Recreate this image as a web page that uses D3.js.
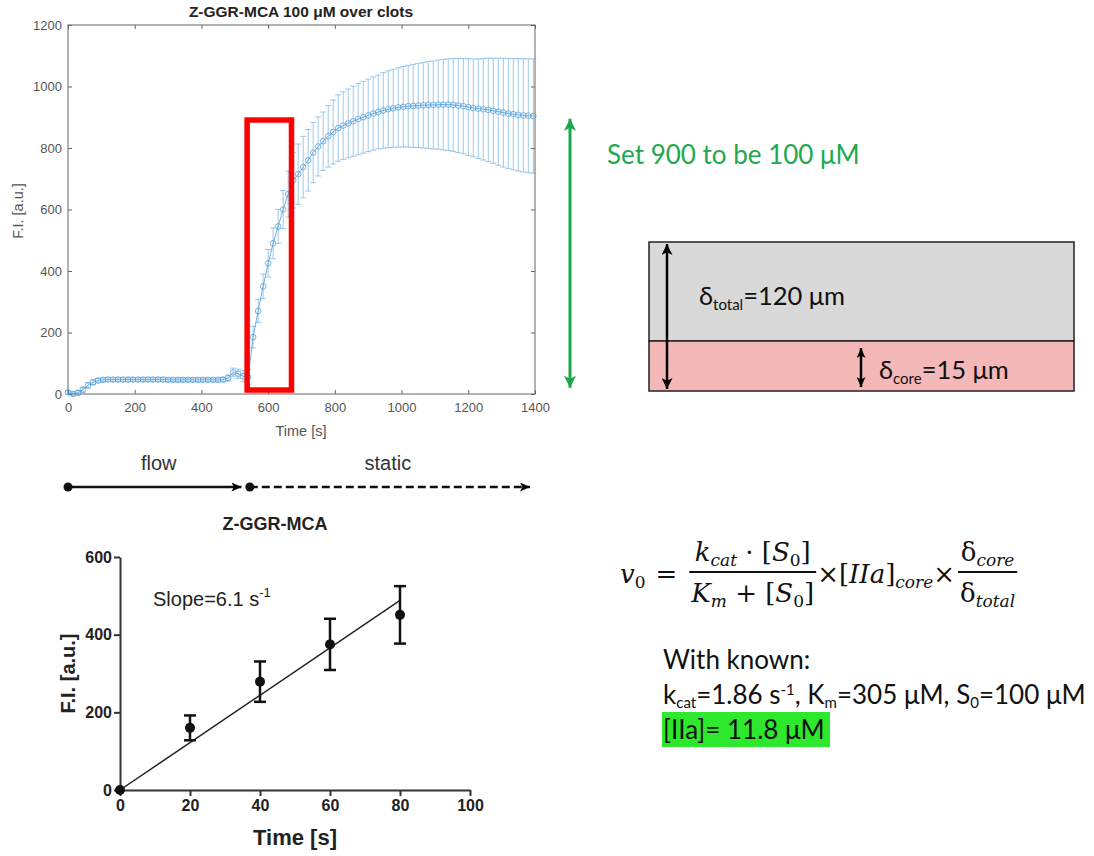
<!DOCTYPE html>
<html>
<head>
<meta charset="utf-8">
<script src="https://cdn.jsdelivr.net/npm/d3@7"></script>
<style>
  body { margin: 0; background: #fff; }
  svg { display: block; }
</style>
</head>
<body>
<svg id="fig" width="1094" height="856"></svg>
<script>
// ---------- Data ----------
// Fluorescence over clots, Z-GGR-MCA 100 µM (mean ± SD), sampled every 15 s
const topTime = [0,15,30,45,60,75,90,105,120,135,150,165,180,195,210,225,240,255,270,285,
  300,315,330,345,360,375,390,405,420,435,450,465,480,495,510,525,540,555,570,585,
  600,615,630,645,660,675,690,705,720,735,750,765,780,795,810,825,840,855,870,885,
  900,915,930,945,960,975,990,1005,1020,1035,1050,1065,1080,1095,1110,1125,1140,1155,1170,1185,
  1200,1215,1230,1245,1260,1275,1290,1305,1320,1335,1350,1365,1380,1395];
const topMean = [5,0,4,14,28,38,44,46,47,47,47,47,47,47,47,47,47,47,47,47,
  46,46,46,46,46,46,46,46,46,46,46,47,52,70,66,58,55,185,270,350,
  425,490,545,600,650,695,715,738,760,785,805,822,838,852,865,873,880,887,894,900,
  906,912,917,922,926,929,932,934,936,937,938,939,940,940,941,941,941,940,938,936,
  933,930,928,926,924,921,918,915,912,910,908,906,905,904];
const topSd = [5,6,7,8,9,8,7,6,6,6,6,6,6,6,6,6,6,6,6,6,
  6,6,6,6,6,6,6,6,6,6,6,7,10,14,15,18,25,35,38,40,
  45,50,55,62,75,90,98,100,100,98,96,95,100,104,108,110,112,114,116,117,
  118,119,120,123,125,127,129,131,133,135,137,139,141,143,145,147,149,151,153,155,
  157,159,162,165,168,171,174,177,179,181,183,184,185,186];
const topXTicks = [0,200,400,600,800,1000,1200,1400];
const topYTicks = [0,200,400,600,800,1000,1200];

// Window analysed for the initial rate (time [s], F.I. [a.u.])
const windowTime = [537, 670];
const windowFI = [13, 891];
// Span of the calibration arrow (F.I. [a.u.])
const calibrationFI = [20, 895];

// Flow / static phases (time [s])
const phaseNames = ["flow", "static"];
const phaseStart = [0, 545];
const phaseEnd = [520, 1385];

// Initial-rate fit
const rateTime = [0, 20, 40, 60, 80];
const rateFI = [0, 160, 279, 375, 451];
const rateErr = [0, 32, 52, 66, 74];
const rateSlope = 6.1;
const rateXTicks = [0, 20, 40, 60, 80, 100];
const rateYTicks = [0, 200, 400, 600];

const svg = d3.select("#fig");
const blue = "#4f9cd8";

// ---------- Top chart: F.I. over time ----------
const xT = d3.scaleLinear().domain([0, 1400]).range([68, 535]);
const yT = d3.scaleLinear().domain([0, 1200]).range([394, 25]);
const topG = svg.append("g").attr("font-family", "Liberation Sans, Arial, sans-serif");

const axisColor = "#666";
function styleAxis(g) {
  g.selectAll(".domain").remove();
  g.selectAll(".tick line").attr("stroke", axisColor);
  g.selectAll(".tick text").attr("fill", "#555").attr("font-size", 13);
}
const fmt = d3.format("d");
topG.append("g").attr("transform", `translate(0,${yT(0)})`)
  .call(d3.axisBottom(xT).tickValues(topXTicks).tickFormat(fmt).tickSizeInner(-4).tickSizeOuter(0).tickPadding(9))
  .call(styleAxis);
topG.append("g").attr("transform", `translate(${xT(0)},0)`)
  .call(d3.axisLeft(yT).tickValues(topYTicks).tickFormat(fmt).tickSizeInner(-4).tickSizeOuter(0).tickPadding(6))
  .call(styleAxis);
topG.append("g").attr("transform", `translate(0,${yT(1200)})`)
  .call(d3.axisTop(xT).tickValues(topXTicks).tickSizeInner(-4).tickSizeOuter(0).tickFormat(""))
  .call(styleAxis);
topG.append("g").attr("transform", `translate(${xT(1400)},0)`)
  .call(d3.axisRight(yT).tickValues(topYTicks).tickSizeInner(-4).tickSizeOuter(0).tickFormat(""))
  .call(styleAxis);
topG.append("rect")
  .attr("x", xT(0)).attr("y", yT(1200))
  .attr("width", xT(1400) - xT(0)).attr("height", yT(0) - yT(1200))
  .attr("fill", "none").attr("stroke", axisColor).attr("stroke-width", 1);

topG.append("text").attr("x", 301).attr("y", 17).attr("text-anchor", "middle")
  .attr("font-size", 15.5).attr("font-weight", "bold").attr("fill", "#222")
  .text("Z-GGR-MCA 100 μM over clots");
topG.append("text").attr("x", 301).attr("y", 436).attr("text-anchor", "middle")
  .attr("font-size", 14.5).attr("fill", "#555").text("Time [s]");
topG.append("text").attr("transform", "translate(23,211) rotate(-90)")
  .attr("text-anchor", "middle").attr("font-size", 14.5).attr("fill", "#555").text("F.I. [a.u.]");

const topData = topTime.map((t, i) => ({ t, m: topMean[i], s: topSd[i] }));
const eb = topG.append("g").attr("stroke", blue).attr("stroke-opacity", 0.55).attr("fill", "none").attr("stroke-width", 1);
eb.selectAll("line.v").data(topData).join("line").attr("class", "v")
  .attr("x1", d => xT(d.t)).attr("x2", d => xT(d.t))
  .attr("y1", d => yT(d.m - d.s)).attr("y2", d => yT(d.m + d.s));
eb.selectAll("line.cu").data(topData).join("line").attr("class", "cu")
  .attr("x1", d => xT(d.t) - 3).attr("x2", d => xT(d.t) + 3)
  .attr("y1", d => yT(d.m + d.s)).attr("y2", d => yT(d.m + d.s));
eb.selectAll("line.cl").data(topData).join("line").attr("class", "cl")
  .attr("x1", d => xT(d.t) - 3).attr("x2", d => xT(d.t) + 3)
  .attr("y1", d => yT(d.m - d.s)).attr("y2", d => yT(d.m - d.s));
topG.append("path").datum(topData)
  .attr("fill", "none").attr("stroke", blue).attr("stroke-opacity", 0.8).attr("stroke-width", 1)
  .attr("d", d3.line().x(d => xT(d.t)).y(d => yT(d.m)));
topG.selectAll("circle.m").data(topData).join("circle").attr("class", "m")
  .attr("cx", d => xT(d.t)).attr("cy", d => yT(d.m)).attr("r", 2.8)
  .attr("fill", "none").attr("stroke", blue).attr("stroke-opacity", 0.75).attr("stroke-width", 1);

// highlighted initial-rate window
svg.append("rect")
  .attr("x", xT(windowTime[0])).attr("y", yT(windowFI[1]))
  .attr("width", xT(windowTime[1]) - xT(windowTime[0]))
  .attr("height", yT(windowFI[0]) - yT(windowFI[1]))
  .attr("fill", "none").attr("stroke", "#ff0000").attr("stroke-width", 5.5);

// ---------- Arrow markers ----------
const defs = svg.append("defs");
function arrowMarker(id, color, w, h) {
  defs.append("marker").attr("id", id)
    .attr("viewBox", `0 0 ${w} ${h}`).attr("refX", w).attr("refY", h / 2)
    .attr("markerWidth", w).attr("markerHeight", h)
    .attr("markerUnits", "userSpaceOnUse").attr("orient", "auto-start-reverse")
    .append("path").attr("d", `M0,0 L${w},${h / 2} L0,${h} L${w * 0.25},${h / 2} Z`).attr("fill", color);
}
arrowMarker("ag", "#1aa64a", 12, 12);
arrowMarker("ak", "#000", 11, 11);
arrowMarker("akt", "#000", 10, 9);

// calibration arrow
svg.append("line")
  .attr("x1", 570).attr("x2", 570)
  .attr("y1", yT(calibrationFI[1])).attr("y2", yT(calibrationFI[0]))
  .attr("stroke", "#1aa64a").attr("stroke-width", 3)
  .attr("marker-start", "url(#ag)").attr("marker-end", "url(#ag)");
svg.append("text").attr("x", 607).attr("y", 164)
  .attr("font-family", "Lato, 'Open Sans', sans-serif").attr("font-size", 26)
  .attr("fill", "#22a84f").text("Set 900 to be 100 μM");

// ---------- Clot layer sketch ----------
const calib = "Lato, 'Open Sans', sans-serif";
const layer = svg.append("g");
layer.append("rect").attr("x", 649).attr("y", 242).attr("width", 425).attr("height", 99)
  .attr("fill", "#d9d9d9").attr("stroke", "#222").attr("stroke-width", 1.5);
layer.append("rect").attr("x", 649).attr("y", 341).attr("width", 425).attr("height", 50)
  .attr("fill", "#f5b8b8").attr("stroke", "#222").attr("stroke-width", 1.5);
layer.append("line").attr("x1", 667).attr("x2", 667).attr("y1", 244).attr("y2", 389)
  .attr("stroke", "#000").attr("stroke-width", 2.5)
  .attr("marker-start", "url(#ak)").attr("marker-end", "url(#ak)");
layer.append("line").attr("x1", 861).attr("x2", 861).attr("y1", 348).attr("y2", 387)
  .attr("stroke", "#000").attr("stroke-width", 2.5)
  .attr("marker-start", "url(#akt)").attr("marker-end", "url(#akt)");
const t1 = layer.append("text").attr("x", 699).attr("y", 305)
  .attr("font-family", calib).attr("font-size", 25.5).attr("fill", "#111");
t1.append("tspan").text("δ");
t1.append("tspan").attr("font-size", 15).attr("dy", 5).text("total");
t1.append("tspan").attr("dy", -5).text("=120 μm");
const t2 = layer.append("text").attr("x", 879).attr("y", 379)
  .attr("font-family", calib).attr("font-size", 25.5).attr("fill", "#111");
t2.append("tspan").text("δ");
t2.append("tspan").attr("font-size", 15).attr("dy", 5).text("core");
t2.append("tspan").attr("dy", -5).text("=15 μm");

// ---------- Flow / static timeline ----------
const tl = svg.append("g").attr("font-family", "Liberation Sans, Arial, sans-serif");
const tlY = 487;
phaseNames.forEach((name, i) => {
  tl.append("line")
    .attr("x1", xT(phaseStart[i])).attr("x2", xT(phaseEnd[i]))
    .attr("y1", tlY).attr("y2", tlY)
    .attr("stroke", "#111").attr("stroke-width", 2.5)
    .attr("stroke-dasharray", i === 0 ? null : "8,4")
    .attr("marker-end", "url(#akt)");
  tl.append("circle").attr("cx", xT(phaseStart[i])).attr("cy", tlY).attr("r", 4.5).attr("fill", "#111");
  tl.append("text").attr("x", (xT(phaseStart[i]) + xT(phaseEnd[i])) / 2 + (i === 0 ? 4 : -2))
    .attr("y", 470).attr("text-anchor", "middle")
    .attr("font-size", 20).attr("fill", "#333").text(name);
});

// ---------- Bottom chart: initial rate ----------
const xB = d3.scaleLinear().domain([0, 100]).range([120, 470]);
const yB = d3.scaleLinear().domain([0, 600]).range([790, 557]);
const bot = svg.append("g").attr("font-family", "Liberation Sans, Arial, sans-serif");

bot.append("text").attr("x", 275).attr("y", 530).attr("text-anchor", "middle")
  .attr("font-size", 18).attr("font-weight", "bold").attr("fill", "#222").text("Z-GGR-MCA");

function styleBot(g) {
  g.select(".domain").attr("stroke", "#333").attr("stroke-width", 2);
  g.selectAll(".tick line").attr("stroke", "#333").attr("stroke-width", 2);
  g.selectAll(".tick text").attr("fill", "#222").attr("font-size", 16).attr("font-weight", "bold");
}
bot.append("g").attr("transform", `translate(0,${yB(0)})`)
  .call(d3.axisBottom(xB).tickValues(rateXTicks).tickSize(6).tickSizeOuter(0).tickPadding(4))
  .call(styleBot);
bot.append("g").attr("transform", `translate(${xB(0)},0)`)
  .call(d3.axisLeft(yB).tickValues(rateYTicks).tickSize(6).tickSizeOuter(0).tickPadding(2))
  .call(styleBot);

bot.append("text").attr("x", 295).attr("y", 845).attr("text-anchor", "middle")
  .attr("font-size", 22).attr("font-weight", "bold").attr("fill", "#222").text("Time [s]");
bot.append("text").attr("transform", `translate(75,${(yB(0) + yB(600)) / 2}) rotate(-90)`)
  .attr("text-anchor", "middle").attr("font-size", 20).attr("font-weight", "bold")
  .attr("fill", "#222").text("F.I. [a.u.]");

// linear fit through the origin
const fitEnd = rateTime[rateTime.length - 1];
bot.append("line")
  .attr("x1", xB(0)).attr("y1", yB(0))
  .attr("x2", xB(fitEnd)).attr("y2", yB(rateSlope * fitEnd))
  .attr("stroke", "#222").attr("stroke-width", 1.5);

const rateData = rateTime.map((t, i) => ({ t, v: rateFI[i], e: rateErr[i] }));
const rb = bot.append("g").attr("stroke", "#111").attr("stroke-width", 2.5);
rb.selectAll("line.v").data(rateData.filter(d => d.e > 0)).join("line").attr("class", "v")
  .attr("x1", d => xB(d.t)).attr("x2", d => xB(d.t))
  .attr("y1", d => yB(d.v - d.e)).attr("y2", d => yB(d.v + d.e));
rb.selectAll("line.cu").data(rateData.filter(d => d.e > 0)).join("line").attr("class", "cu")
  .attr("x1", d => xB(d.t) - 6).attr("x2", d => xB(d.t) + 6)
  .attr("y1", d => yB(d.v + d.e)).attr("y2", d => yB(d.v + d.e));
rb.selectAll("line.cl").data(rateData.filter(d => d.e > 0)).join("line").attr("class", "cl")
  .attr("x1", d => xB(d.t) - 6).attr("x2", d => xB(d.t) + 6)
  .attr("y1", d => yB(d.v - d.e)).attr("y2", d => yB(d.v - d.e));
bot.selectAll("circle.p").data(rateData).join("circle").attr("class", "p")
  .attr("cx", d => xB(d.t)).attr("cy", d => yB(d.v)).attr("r", 5).attr("fill", "#111");

const slopeLbl = bot.append("text").attr("x", 153).attr("y", 606)
  .attr("font-size", 20).attr("fill", "#222");
slopeLbl.append("tspan").text(`Slope=${rateSlope} s`);
slopeLbl.append("tspan").attr("font-size", 13).attr("dy", -9).text("-1");

// ---------- Rate equation (laid out left to right from measured widths) ----------
const eq = svg.append("g").attr("font-family", "'DejaVu Serif', 'Liberation Serif', serif").attr("fill", "#111");
const EQ = 26, SUB = 17, BASE = 583, NUMY = 561, DENY = 602;
function addParts(textSel, parts) {
  parts.forEach(p => {
    const ts = textSel.append("tspan").text(p.s);
    if (p.i) ts.attr("font-style", "italic");
    if (p.sub) ts.attr("font-size", SUB).attr("dy", 5);
    if (p.back) ts.attr("dy", -5);
  });
  return textSel;
}
function piece(x, y, parts, anchor) {
  const t = eq.append("text").attr("x", x).attr("y", y).attr("font-size", EQ)
    .attr("text-anchor", anchor || "start");
  return addParts(t, parts);
}
function width(sel) { return sel.node().getComputedTextLength(); }

let cx = 620;
const vPart = piece(cx, BASE, [{ s: "v", i: 1 }, { s: "0", sub: 1 }]);
cx += width(vPart) + 10;
const eqSign = piece(cx, BASE, [{ s: "=" }]);
cx += width(eqSign) + 12;

function fraction(numParts, denParts) {
  const n = piece(0, NUMY, numParts, "middle");
  const d = piece(0, DENY, denParts, "middle");
  const w = Math.max(width(n), width(d)) + 4;
  n.attr("x", cx + w / 2);
  d.attr("x", cx + w / 2);
  eq.append("line").attr("x1", cx).attr("x2", cx + w).attr("y1", 572).attr("y2", 572)
    .attr("stroke", "#111").attr("stroke-width", 2);
  cx += w;
}
fraction(
  [{ s: "k", i: 1 }, { s: "cat", i: 1, sub: 1 }, { s: " · [", back: 1 }, { s: "S", i: 1 }, { s: "0", sub: 1 }, { s: "]", back: 1 }],
  [{ s: "K", i: 1 }, { s: "m", i: 1, sub: 1 }, { s: " + [", back: 1 }, { s: "S", i: 1 }, { s: "0", sub: 1 }, { s: "]", back: 1 }]
);
const mid = piece(cx + 1, BASE, [{ s: "×[" }, { s: "IIa", i: 1 }, { s: "]" }, { s: "core", i: 1, sub: 1 }, { s: "×", back: 1 }]);
cx += width(mid) + 4;
fraction(
  [{ s: "δ" }, { s: "core", i: 1, sub: 1 }],
  [{ s: "δ" }, { s: "total", i: 1, sub: 1 }]
);

// ---------- Known constants ----------
const kn = svg.append("g").attr("font-family", calib).attr("fill", "#111");
const KS = 26, KSUB = 15;
kn.append("text").attr("x", 663).attr("y", 669).attr("font-size", KS).text("With known:");
const kl = kn.append("text").attr("x", 663).attr("y", 704).attr("font-size", KS);
kl.append("tspan").text("k");
kl.append("tspan").attr("font-size", KSUB).attr("dy", 4).text("cat");
kl.append("tspan").attr("dy", -4).text("=1.86 s");
kl.append("tspan").attr("font-size", KSUB).attr("dy", -9).text("-1");
kl.append("tspan").attr("dy", 9).text(", K");
kl.append("tspan").attr("font-size", KSUB).attr("dy", 4).text("m");
kl.append("tspan").attr("dy", -4).text("=305 μM, S");
kl.append("tspan").attr("font-size", KSUB).attr("dy", 4).text("0");
kl.append("tspan").attr("dy", -4).text("=100 μM");
kn.append("rect").attr("x", 662).attr("y", 712).attr("width", 168).attr("height", 35).attr("fill", "#2ee82e");
kn.append("text").attr("x", 663).attr("y", 739).attr("font-size", KS).text("[IIa]= 11.8 μM");
</script>
</body>
</html>
